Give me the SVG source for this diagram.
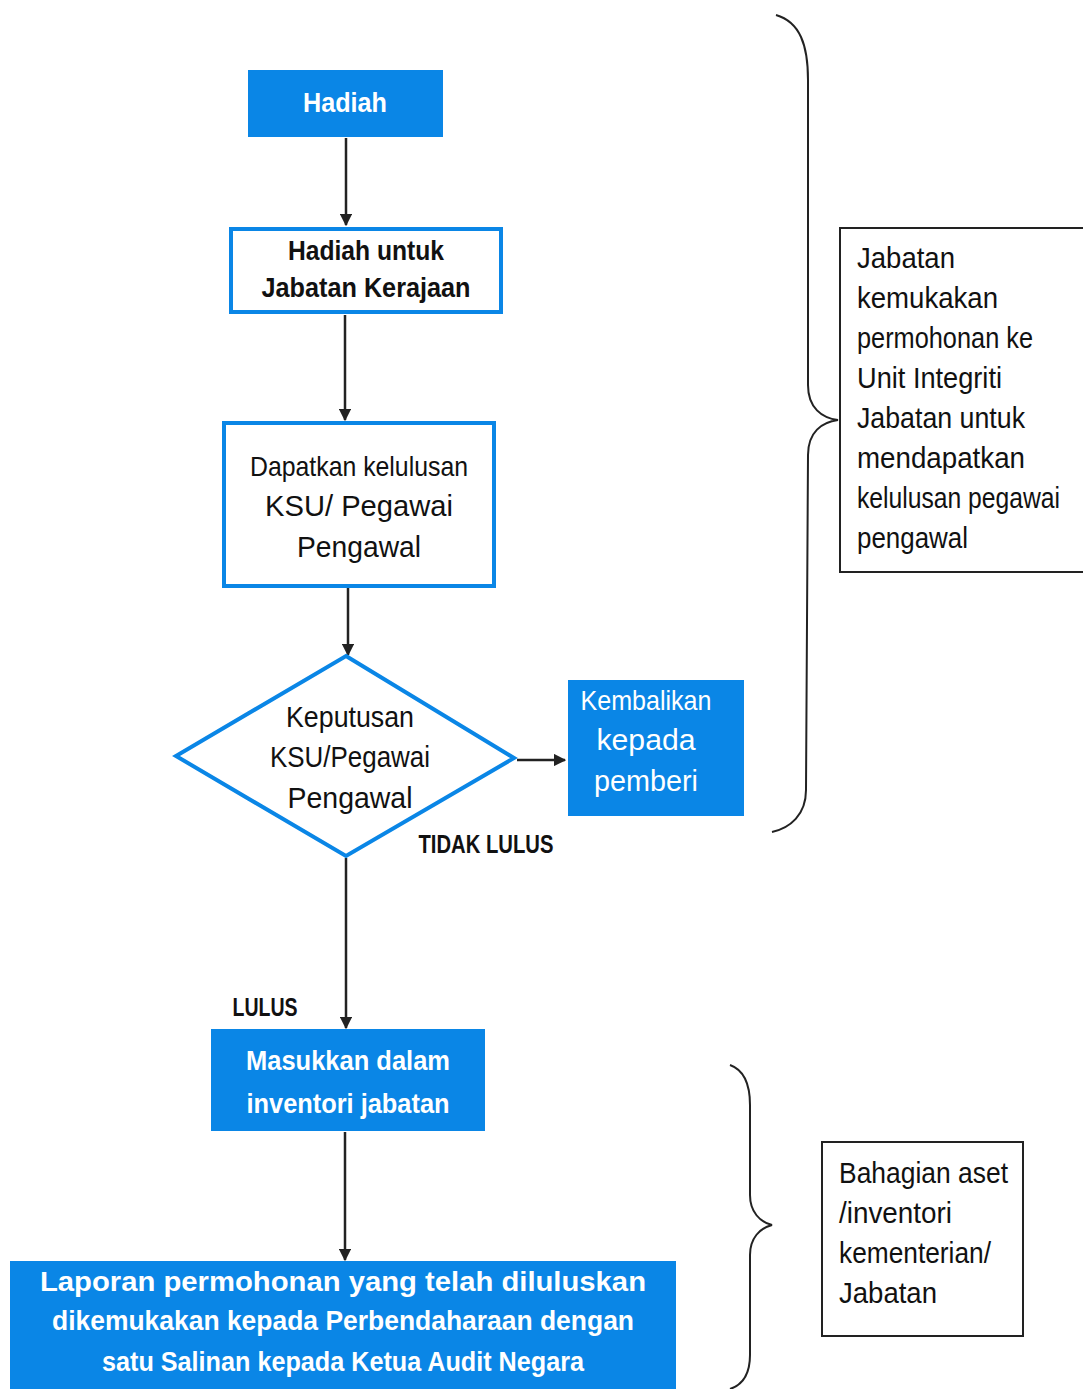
<svg xmlns="http://www.w3.org/2000/svg" width="1083" height="1389" viewBox="0 0 1083 1389">
<style>
.fill{fill:#0a86e6;}
.out{fill:#fff;stroke:#0a86e6;stroke-width:4;}
.t{font-family:"Liberation Sans",sans-serif;text-anchor:middle;}
.w{fill:#fff;}
.k{fill:#111;}
.b{font-weight:bold;}
.note{font-family:"Liberation Sans",sans-serif;font-size:29px;fill:#111;}
.con{stroke:#222;stroke-width:2.5;fill:none;}
.brace{stroke:#222;stroke-width:2;fill:none;}
</style>
<defs>
<marker id="ah" viewBox="0 0 10 10" refX="9" refY="5" markerWidth="5" markerHeight="5" orient="auto">
<path d="M0,0 L10,5 L0,10 z" fill="#222"/>
</marker>
</defs>
<rect width="1083" height="1389" fill="#fff"/>
<g id="connectors">
<line class="con" x1="346" y1="138" x2="346" y2="225" marker-end="url(#ah)"/>
<line class="con" x1="345" y1="315" x2="345" y2="420" marker-end="url(#ah)"/>
<line class="con" x1="348" y1="587" x2="348" y2="655" marker-end="url(#ah)"/>
<line class="con" x1="517" y1="760" x2="565" y2="760" marker-end="url(#ah)"/>
<line class="con" x1="346" y1="858" x2="346" y2="1028" marker-end="url(#ah)"/>
<line class="con" x1="345" y1="1132" x2="345" y2="1260" marker-end="url(#ah)"/>
</g>
<g id="hadiah">
<rect class="fill" x="248" y="70" width="195" height="67"/>
<text class="t w b" x="345" y="112" font-size="28" textLength="84" lengthAdjust="spacingAndGlyphs">Hadiah</text>
</g>
<g id="hadiah-jabatan">
<rect class="out" x="231" y="229" width="270" height="83"/>
<text class="t k b" x="366" y="260" font-size="28" textLength="156" lengthAdjust="spacingAndGlyphs">Hadiah untuk</text>
<text class="t k b" x="366" y="297" font-size="28" textLength="209" lengthAdjust="spacingAndGlyphs">Jabatan Kerajaan</text>
</g>
<g id="dapatkan">
<rect class="out" x="224" y="423" width="270" height="163"/>
<text class="t k" x="359" y="476" font-size="28" textLength="218" lengthAdjust="spacingAndGlyphs">Dapatkan kelulusan</text>
<text class="t k" x="359" y="516" font-size="29" textLength="188" lengthAdjust="spacingAndGlyphs">KSU/ Pegawai</text>
<text class="t k" x="359" y="557" font-size="29" textLength="124" lengthAdjust="spacingAndGlyphs">Pengawal</text>
</g>
<g id="keputusan">
<polygon class="out" points="346,656 514,758 346,856 176,756"/>
<text class="t k" x="350" y="727" font-size="29" textLength="128" lengthAdjust="spacingAndGlyphs">Keputusan</text>
<text class="t k" x="350" y="767" font-size="29" textLength="160" lengthAdjust="spacingAndGlyphs">KSU/Pegawai</text>
<text class="t k" x="350" y="808" font-size="29" textLength="125" lengthAdjust="spacingAndGlyphs">Pengawal</text>
</g>
<g id="kembalikan">
<rect class="fill" x="568" y="680" width="176" height="136"/>
<text class="t w" x="646" y="710" font-size="28" textLength="131" lengthAdjust="spacingAndGlyphs">Kembalikan</text>
<text class="t w" x="646" y="750" font-size="29" textLength="99" lengthAdjust="spacingAndGlyphs">kepada</text>
<text class="t w" x="646" y="791" font-size="29" textLength="104" lengthAdjust="spacingAndGlyphs">pemberi</text>
</g>
<text class="t k b" x="486" y="853" font-size="25" textLength="135" lengthAdjust="spacingAndGlyphs">TIDAK LULUS</text>
<text class="t k b" x="265" y="1016" font-size="25" textLength="65" lengthAdjust="spacingAndGlyphs">LULUS</text>
<g id="masukkan">
<rect class="fill" x="211" y="1029" width="274" height="102"/>
<text class="t w b" x="348" y="1070" font-size="28" textLength="204" lengthAdjust="spacingAndGlyphs">Masukkan dalam</text>
<text class="t w b" x="348" y="1113" font-size="28" textLength="203" lengthAdjust="spacingAndGlyphs">inventori jabatan</text>
</g>
<g id="laporan">
<rect class="fill" x="10" y="1261" width="666" height="130"/>
<text class="t w b" x="343" y="1291" font-size="28" textLength="606" lengthAdjust="spacingAndGlyphs">Laporan  permohonan  yang  telah  diluluskan</text>
<text class="t w b" x="343" y="1330" font-size="28" textLength="582" lengthAdjust="spacingAndGlyphs">dikemukakan kepada Perbendaharaan dengan</text>
<text class="t w b" x="343" y="1371" font-size="28" textLength="482" lengthAdjust="spacingAndGlyphs">satu Salinan kepada Ketua Audit Negara</text>
</g>
<g id="brace-top">
<path class="brace" d="M776,15 C800,22 808,45 808,80 L808,385 C808,408 822,418 838,420 C822,422 808,432 808,455 L806,790 C806,815 790,828 772,832"/>
</g>
<g id="note-jabatan">
<rect x="840" y="228" width="250" height="344" fill="#fff" stroke="#222" stroke-width="2"/>
<text class="note" x="857" y="268" textLength="98" lengthAdjust="spacingAndGlyphs">Jabatan</text>
<text class="note" x="857" y="308" textLength="141" lengthAdjust="spacingAndGlyphs">kemukakan</text>
<text class="note" x="857" y="348" textLength="176" lengthAdjust="spacingAndGlyphs">permohonan ke</text>
<text class="note" x="857" y="388" textLength="145" lengthAdjust="spacingAndGlyphs">Unit Integriti</text>
<text class="note" x="857" y="428" textLength="168" lengthAdjust="spacingAndGlyphs">Jabatan untuk</text>
<text class="note" x="857" y="468" textLength="168" lengthAdjust="spacingAndGlyphs">mendapatkan</text>
<text class="note" x="857" y="508" textLength="203" lengthAdjust="spacingAndGlyphs">kelulusan pegawai</text>
<text class="note" x="857" y="548" textLength="111" lengthAdjust="spacingAndGlyphs">pengawal</text>
</g>
<g id="brace-bottom">
<path class="brace" d="M730,1065 C744,1070 750,1085 750,1105 L750,1195 C750,1212 760,1222 772,1225 C760,1228 750,1238 750,1255 L750,1355 C750,1375 742,1385 730,1389"/>
</g>
<g id="note-bahagian">
<rect x="822" y="1142" width="201" height="194" fill="#fff" stroke="#222" stroke-width="2"/>
<text class="note" x="839" y="1183" textLength="169" lengthAdjust="spacingAndGlyphs">Bahagian aset</text>
<text class="note" x="839" y="1223" textLength="113" lengthAdjust="spacingAndGlyphs">/inventori</text>
<text class="note" x="839" y="1263" textLength="152" lengthAdjust="spacingAndGlyphs">kementerian/</text>
<text class="note" x="839" y="1303" textLength="98" lengthAdjust="spacingAndGlyphs">Jabatan</text>
</g>
</svg>
